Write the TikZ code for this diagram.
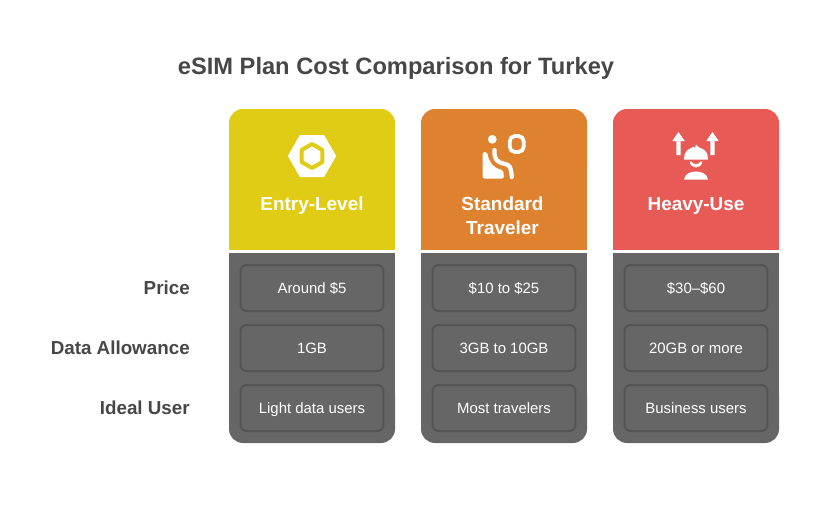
\documentclass[tikz,border=0pt]{standalone}
\usepackage{fontspec}
\setmainfont{Liberation Sans}
\definecolor{yellowhead}{HTML}{E0CC14}
\definecolor{orangehead}{HTML}{DF8230}
\definecolor{redhead}{HTML}{E75A55}
\definecolor{bodygray}{HTML}{666666}
\definecolor{cellline}{HTML}{555555}
\definecolor{titlegray}{HTML}{474747}
\tikzset{
    titletext/.style={text=titlegray,font=\fontsize{17.75}{22}\selectfont\bfseries},
    rowlabel/.style={text=titlegray,anchor=east,inner sep=0pt,font=\fontsize{14.1}{17}\selectfont\bfseries},
    headtext/.style={text=white,align=center,font=\fontsize{14.2}{18}\selectfont\bfseries},
    cell/.style={draw=cellline,fill=bodygray,line width=1.5pt,rounded corners=4.5pt,
        minimum width=107.2pt,minimum height=34.5pt,text=white,text height=10.5pt,text depth=2.5pt,
        font=\fontsize{11.2}{13}\selectfont},
}
\begin{document}
\begin{tikzpicture}[x=0.75pt,y=-0.75pt]
        \useasboundingbox (0,0) rectangle (828,504);
        \fill[white] (0,0) rectangle (828,504);

        % Title
        \node[titletext] (title) at (396,68.5) {eSIM Plan Cost Comparison for Turkey};

        % Column panels
        \foreach \colx/\headcol in {229/yellowhead,421/orangehead,613/redhead} {
            \fill[\headcol,rounded corners=10.5pt] (\colx,109) rectangle (\colx+166,180);
            \fill[\headcol] (\colx,130) rectangle (\colx+166,250);
            \fill[bodygray,rounded corners=10.5pt] (\colx,380) rectangle (\colx+166,443);
            \fill[bodygray] (\colx,253) rectangle (\colx+166,420);
        }

        % Row labels
        \node[rowlabel] (price) at (190,288) {Price};
        \node[rowlabel] (data) at (190,348) {Data Allowance};
        \node[rowlabel] (user) at (190,408) {Ideal User};

        % Column headings
        \node[headtext] (entry) at (312,206) {Entry-Level};
        \node[headtext] (standard) at (502.5,215.5) {Standard\\Traveler};
        \node[headtext] (heavy) at (696,206) {Heavy-Use};

        % Entry-Level cells
        \node[cell] (entryprice) at (312,288) {Around \$5};
        \node[cell] (entrydata) at (312,348) {1GB};
        \node[cell] (entryuser) at (312,408) {Light data users};

        % Standard Traveler cells
        \node[cell] (standardprice) at (504,288) {\$10 to \$25};
        \node[cell] (standarddata) at (504,348) {3GB to 10GB};
        \node[cell] (standarduser) at (504,408) {Most travelers};

        % Heavy-Use cells
        \node[cell] (heavyprice) at (696,288) {\$30–\$60};
        \node[cell] (heavydata) at (696,348) {20GB or more};
        \node[cell] (heavyuser) at (696,408) {Business users};

        % Hexagon icon
        \fill[white,line join=round,draw=white,line width=1.5pt] (289,156) -- (300.5,136) -- (323.5,136) -- (335,156) -- (323.5,176) -- (300.5,176) -- cycle;
        \draw[yellowhead,line width=3pt,line join=round] (312,144) -- (322.4,150) -- (322.4,162) -- (312,168) -- (301.6,162) -- (301.6,150) -- cycle;

        % Seat and window icon
        \fill[white] (492.3,139.3) circle (4.4);
        \draw[white,line width=2.8pt,rounded corners=4pt] (509.7,136) rectangle (523.7,152);
        \fill[white,rounded corners=1.5pt] (482.7,152) -- (487.3,152) .. controls (489,162) and (493,168) .. (503.3,170) -- (504,178.5) -- (482.7,178.5) -- cycle;
        \draw[white,line width=3.2pt,line cap=round,line join=round] (494.5,150) .. controls (494,160) and (497,162) .. (505,164) .. controls (510,165) and (511,167) .. (511.8,177);

        % Worker with arrows icon
        \foreach \arrx in {678.5,712.5} {
            \fill[white] (\arrx,132) -- (\arrx+6.2,141) -- (\arrx+2.2,141) -- (\arrx+2.2,155) -- (\arrx-2.2,155) -- (\arrx-2.2,141) -- (\arrx-6.2,141) -- cycle;
        }
        \fill[white] (684,159.5) -- (684.5,155) .. controls (686,150.5) and (689,148.5) .. (692,147.5) -- (693,146.5) -- (695,148) -- (696,144.5) -- (699,147.5) .. controls (703,148.5) and (706.5,151) .. (707.5,155) -- (708,159.5) -- cycle;
        \fill[white] (689.5,161.5) .. controls (691,169.5) and (701,169.5) .. (702.5,161.5) -- (700.5,161.5) .. controls (699,165) and (693,165) .. (691.5,161.5) -- cycle;
        \fill[white] (684,179.5) .. controls (685,174) and (690,171.5) .. (696,171.5) .. controls (702,171.5) and (707,174) .. (708,179.5) -- cycle;
    \end{tikzpicture}
\end{document}
